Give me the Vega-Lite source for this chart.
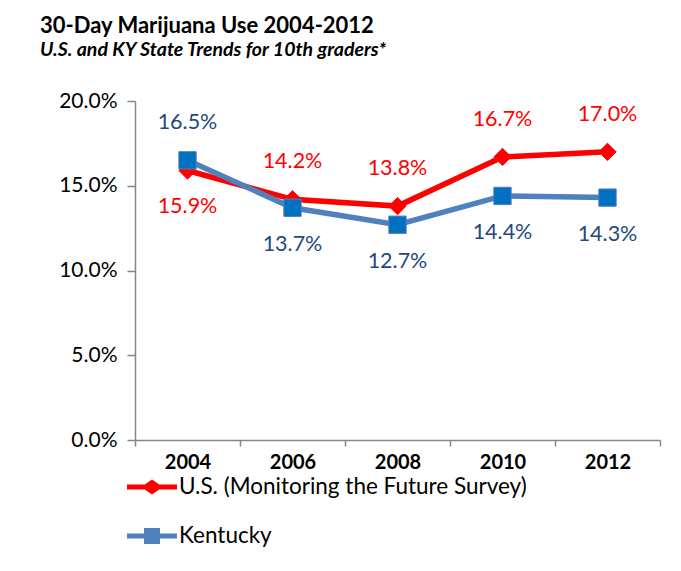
{
  "$schema": "https://vega.github.io/schema/vega-lite/v6.json",
  "width": 525,
  "height": 339,
  "autosize": {"type": "none"},
  "padding": {"left": 135, "top": 101, "right": 21, "bottom": 131},
  "background": "white",
  "config": {
    "view": {"stroke": null},
    "font": "Lato"
  },
  "title": {
    "text": "30-Day Marijuana Use 2004-2012",
    "subtitle": "U.S. and KY State Trends for 10th graders*",
    "anchor": "start",
    "frame": "group",
    "dx": -95,
    "offset": 30,
    "font": "Lato",
    "fontSize": 22,
    "fontWeight": "bold",
    "color": "#000000",
    "subtitleFont": "Lato",
    "subtitleFontSize": 19.5,
    "subtitleFontWeight": "bold",
    "subtitleFontStyle": "italic",
    "subtitleColor": "#000000",
    "subtitlePadding": 3
  },
  "data": {
    "values": [
      {"year": "2004", "series": "U.S. (Monitoring the Future Survey)", "value": 0.159},
      {"year": "2006", "series": "U.S. (Monitoring the Future Survey)", "value": 0.142},
      {"year": "2008", "series": "U.S. (Monitoring the Future Survey)", "value": 0.138},
      {"year": "2010", "series": "U.S. (Monitoring the Future Survey)", "value": 0.167},
      {"year": "2012", "series": "U.S. (Monitoring the Future Survey)", "value": 0.170},
      {"year": "2004", "series": "Kentucky", "value": 0.165},
      {"year": "2006", "series": "Kentucky", "value": 0.137},
      {"year": "2008", "series": "Kentucky", "value": 0.127},
      {"year": "2010", "series": "Kentucky", "value": 0.144},
      {"year": "2012", "series": "Kentucky", "value": 0.143}
    ]
  },
  "encoding": {
    "x": {
      "field": "year",
      "type": "nominal",
      "scale": {"type": "band", "paddingInner": 0, "paddingOuter": 0},
      "axis": {
        "title": null,
        "labelAngle": 0,
        "tickBand": "extent",
        "domainColor": "#868686",
        "domainWidth": 1.5,
        "tickColor": "#868686",
        "tickWidth": 1.5,
        "tickSize": 6,
        "labelPadding": 6,
        "labelFont": "Lato",
        "labelFontSize": 20,
        "labelFontWeight": "bold",
        "labelColor": "#000000"
      }
    },
    "y": {
      "field": "value",
      "type": "quantitative",
      "scale": {"domain": [0, 0.2]},
      "axis": {
        "title": null,
        "values": [0, 0.05, 0.1, 0.15, 0.2],
        "format": ".1%",
        "grid": false,
        "domainColor": "#868686",
        "domainWidth": 1.5,
        "tickColor": "#868686",
        "tickWidth": 1.5,
        "tickSize": 8,
        "labelPadding": 10,
        "labelFont": "Lato",
        "labelFontSize": 21,
        "labelColor": "#000000"
      }
    }
  },
  "layer": [
    {
      "mark": {"type": "line", "strokeWidth": 5.5},
      "encoding": {
        "color": {
          "field": "series",
          "type": "nominal",
          "sort": ["U.S. (Monitoring the Future Survey)", "Kentucky"],
          "scale": {
            "domain": ["U.S. (Monitoring the Future Survey)", "Kentucky"],
            "range": ["#ff0000", "#4f81bd"]
          },
          "legend": {
            "title": null,
            "orient": "none",
            "legendX": -8,
            "legendY": 361,
            "direction": "vertical",
            "symbolSize": 2500,
            "labelFont": "Lato",
            "labelFontSize": 22.5,
            "labelColor": "#000000",
            "labelOffset": 2,
            "rowPadding": 12,
            "labelLimit": 500,
            "encode": {
              "symbols": {
                "update": {
                  "shape": {"signal": "datum.value === 'Kentucky' ? 'M-1,-0.1L-0.32,-0.1L-0.32,-0.32L0.32,-0.32L0.32,-0.1L1,-0.1L1,0.1L0.32,0.1L0.32,0.32L-0.32,0.32L-0.32,0.1L-1,0.1Z' : 'M-1,-0.1L-0.29,-0.1L0,-0.3L0.29,-0.1L1,-0.1L1,0.1L0.29,0.1L0,0.3L-0.29,0.1L-1,0.1Z'"},
                  "fill": {"signal": "datum.value === 'Kentucky' ? '#4f81bd' : '#ff0000'"},
                  "stroke": {"value": "transparent"},
                  "strokeWidth": {"value": 0},
                  "opacity": {"value": 1},
                  "size": {"value": 2500}
                }
              }
            }
          }
        }
      }
    },
    {
      "mark": {"type": "point", "filled": true, "opacity": 1},
      "encoding": {
        "shape": {"condition": {"test": "datum.series === 'Kentucky'", "value": "square"}, "value": "diamond"},
        "size": {"value": 300},
        "fill": {"condition": {"test": "datum.series === 'Kentucky'", "value": "#0070c0"}, "value": "#ff0000"},
        "stroke": {"condition": {"test": "datum.series === 'Kentucky'", "value": "#4f81bd"}, "value": "#ff0000"},
        "strokeWidth": {"value": 1}
      }
    },
    {
      "transform": [
        {"filter": "(datum.series === 'Kentucky' && datum.year === '2004') || (datum.series !== 'Kentucky' && datum.year !== '2004')"}
      ],
      "mark": {"type": "text", "dy": -37, "font": "Lato", "fontSize": 21.5},
      "encoding": {
        "text": {"field": "value", "type": "quantitative", "format": ".1%"},
        "color": {"condition": {"test": "datum.series === 'Kentucky'", "value": "#1f497d"}, "value": "#ff0000"}
      }
    },
    {
      "transform": [
        {"filter": "(datum.series === 'Kentucky' && datum.year !== '2004') || (datum.series !== 'Kentucky' && datum.year === '2004')"}
      ],
      "mark": {"type": "text", "dy": 37, "font": "Lato", "fontSize": 21.5},
      "encoding": {
        "text": {"field": "value", "type": "quantitative", "format": ".1%"},
        "color": {"condition": {"test": "datum.series === 'Kentucky'", "value": "#1f497d"}, "value": "#ff0000"}
      }
    }
  ]
}
